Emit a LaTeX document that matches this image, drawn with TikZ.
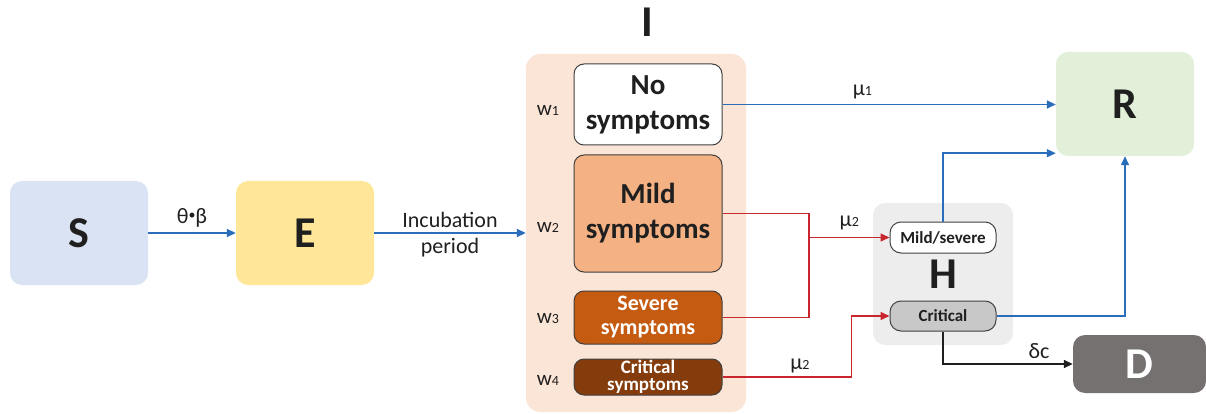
\documentclass[tikz,border=0pt]{standalone}
\usepackage{fontspec}
\setmainfont{Carlito}
\usetikzlibrary{arrows.meta}
\definecolor{ink}{HTML}{1F1F1F}
\definecolor{frame}{HTML}{404040}
\definecolor{sfill}{HTML}{DAE3F3}
\definecolor{efill}{HTML}{FFE699}
\definecolor{ifill}{HTML}{FBE5D6}
\definecolor{mildfill}{HTML}{F4B183}
\definecolor{sevfill}{HTML}{C55A11}
\definecolor{critfill}{HTML}{843C0C}
\definecolor{hfill}{HTML}{EDEDED}
\definecolor{hcritfill}{HTML}{C8C8C8}
\definecolor{rfill}{HTML}{E2F0D9}
\definecolor{dfill}{HTML}{767171}
\definecolor{bluel}{HTML}{2A6EBB}
\definecolor{redl}{HTML}{C9252C}

\begin{document}
\begin{tikzpicture}[x=1pt,y=-1pt,>={Triangle[length=9pt,width=8pt]},
comp/.style={rounded corners=12pt,minimum width=138pt,minimum height=104pt,inner sep=0pt,
  text=ink,font=\fontsize{44}{50}\selectfont\bfseries},
sub/.style={draw=frame,line width=1pt,rounded corners=10pt,minimum width=148pt,inner sep=0pt,
  align=center,text=ink,font=\fontsize{29}{35}\selectfont\bfseries},
hsub/.style={draw=frame,line width=1pt,rounded corners=11pt,minimum width=106pt,minimum height=31pt,
  inner sep=0pt,text=ink,font=\fontsize{17}{20}\selectfont\bfseries},
lab/.style={text=ink,font=\fontsize{22}{26}\selectfont},
wlab/.style={text=ink,font=\fontsize{21}{24}\selectfont},
flow/.style={->,line width=1.5pt}]
\useasboundingbox (0,0) rectangle (1206,414);
\node[comp,fill=sfill] (S) at (79,233) {S};
\node[comp,fill=efill] (E) at (305,233) {E};
\node[fill=ifill,rounded corners=14pt,minimum width=220pt,minimum height=358pt] (I) at (636,233) {};
\node[text=ink,font=\fontsize{44}{50}\selectfont\bfseries] (Ilab) at (647,22) {I};
\node[sub,fill=white,minimum height=81pt] (nosym) at (648,104.5) {No\\symptoms};
\node[sub,fill=mildfill,minimum height=117pt] (mild) at (648,213.5) {Mild\\symptoms};
\node[sub,fill=sevfill,minimum height=53pt,text=white,font=\fontsize{22}{24}\selectfont\bfseries] (severe) at (648,317.5) {Severe\\symptoms};
\node[sub,fill=critfill,minimum height=36pt,text=white,font=\fontsize{19}{17}\selectfont\bfseries] (crsym) at (648,377) {Critical\\symptoms};
\node[wlab] (w1) at (548,110) {w{\fontsize{14}{14}\selectfont 1}};
\node[wlab] (w2) at (548,227) {w{\fontsize{14}{14}\selectfont 2}};
\node[wlab] (w3) at (548,319) {w{\fontsize{14}{14}\selectfont 3}};
\node[wlab] (w4) at (548,380) {w{\fontsize{14}{14}\selectfont 4}};
\node[fill=hfill,rounded corners=12pt,minimum width=140pt,minimum height=142pt] (H) at (943,274) {};
\node[hsub,fill=white] (hms) at (943,237.5) {Mild/severe};
\node[text=ink,font=\fontsize{44}{50}\selectfont\bfseries] (Hlab) at (943,274) {H};
\node[hsub,fill=hcritfill,minimum height=30pt] (hcrit) at (943,316) {Critical};
\node[comp,fill=rfill] (R) at (1125,104) {R};
\node[comp,fill=dfill,text=white,minimum width=133pt,minimum height=58pt] (D) at (1139.5,364) {D};
\coordinate (j1) at (809,237.5);
\draw[flow,bluel] (S) -- node[lab,above=2pt]{θ\raisebox{4pt}{\fontsize{14}{14}\selectfont•}β} (E);
\draw[flow,bluel] (E) -- node[lab,align=center,yshift=-2pt]{Incubation\\period} (I);
\draw[flow,bluel] (nosym.east) -- node[lab,pos=.42,above=1pt]{μ{\fontsize{14}{14}\selectfont 1}} (nosym.east -| R.west);
\draw[line width=1.5pt,redl] (mild.east) -| (j1) |- (severe.east);
\draw[flow,redl] (j1) -- node[lab,above=3pt]{μ{\fontsize{14}{14}\selectfont 2}} (hms.west);
\draw[flow,redl] (crsym.east) -- node[lab,pos=.6,above=0pt]{μ{\fontsize{14}{14}\selectfont 2}} ++(129,0) |- (hcrit.west);
\draw[flow,bluel] (hms.north) |- ([yshift=3pt]R.south west);
\draw[flow,bluel] (hcrit.east) -| (R.south);
\draw[flow,ink] (hcrit.south) |- node[lab,pos=.87,above=1pt]{δc} (D.west);
\end{tikzpicture}
\end{document}
